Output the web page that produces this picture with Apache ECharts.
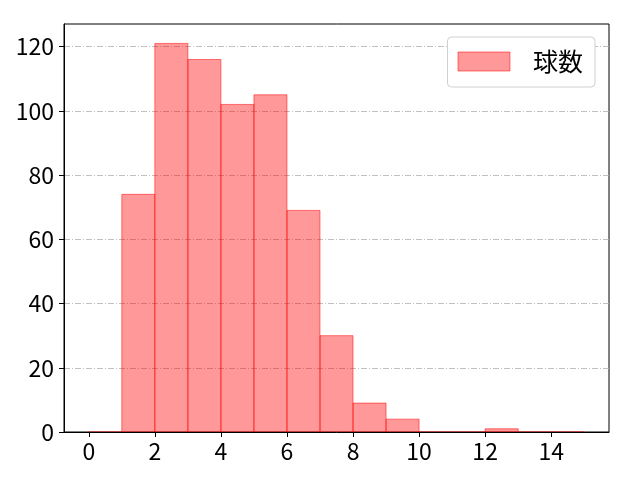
<!DOCTYPE html>
<html>
<head>
    <meta charset="utf-8">
    <title>球数</title>
    <script src="https://cdn.jsdelivr.net/npm/echarts@6/dist/echarts.min.js"></script>
</head>
<body style="margin:0;">
    <div id="main" style="width:640px;height:480px;"></div>
    <script type="text/javascript">
        // histogram bins (left edges) and counts
        var binStarts = [0, 1, 2, 3, 4, 5, 6, 7, 8, 9, 10, 11, 12, 13, 14];
        var counts = [0, 74, 121, 116, 102, 105, 69, 30, 9, 4, 0, 0, 1, 0, 0];
        var xTicks = [0, 2, 4, 6, 8, 10, 12, 14];
        var yTicks = [0, 20, 40, 60, 80, 100, 120];
        var seriesName = '球数';

        var font = 'Noto Sans CJK JP';
        var barFill = 'rgba(255,0,0,0.4)';
        var barEdge = 'rgba(255,0,0,0.5)';

        var histData = [];
        for (var i = 0; i < binStarts.length; i++) {
            histData.push([binStarts[i], binStarts[i] + 1, counts[i]]);
        }

        var myChart = echarts.init(document.getElementById('main'));

        var option = {
            animation: false,
            backgroundColor: '#fff',
            textStyle: { fontFamily: font },
            grid: {
                left: 64, right: 31, top: 24, bottom: 48,
                show: true, borderColor: '#000', borderWidth: 1
            },
            legend: {
                data: [seriesName],
                right: 45, top: 37,
                padding: [12, 12, 13, 10],
                backgroundColor: '#fff',
                borderColor: '#d0d0d0', borderWidth: 1, borderRadius: 4,
                itemWidth: 52, itemHeight: 19,
                icon: 'rect',
                itemStyle: { color: barFill, borderColor: barEdge, borderWidth: 1 },
                textStyle: { fontFamily: font, fontSize: 25, color: '#000', padding: [0, 0, 0, 18] }
            },
            xAxis: {
                type: 'value',
                min: -0.75, max: 15.75,
                z: 5,
                splitLine: { show: false },
                axisLine: { show: true, onZero: false, lineStyle: { color: '#000', width: 1 } },
                axisTick: { show: true, length: 5, customValues: xTicks, lineStyle: { color: '#000' } },
                axisLabel: { customValues: xTicks, fontSize: 23, color: '#000', margin: 8, fontFamily: font }
            },
            yAxis: {
                type: 'value',
                min: 0, max: 127.05, interval: 20,
                axisLine: { show: true, onZero: false, lineStyle: { color: '#000', width: 1 } },
                axisTick: { show: true, length: 5, customValues: yTicks, lineStyle: { color: '#000' } },
                axisLabel: { customValues: yTicks, fontSize: 23, color: '#000', margin: 10, fontFamily: font },
                splitLine: {
                    show: true, showMinLine: false, showMaxLine: true,
                    lineStyle: { color: '#b0b0b0', width: 0.8, type: [6, 2, 1, 2] }
                }
            },
            series: [{
                name: seriesName,
                type: 'custom',
                itemStyle: { color: barFill, borderColor: barEdge },
                encode: { x: [0, 1], y: 2 },
                data: histData,
                renderItem: function (params, api) {
                    var p0 = api.coord([api.value(0), api.value(2)]);
                    var p1 = api.coord([api.value(1), 0]);
                    return {
                        type: 'rect',
                        shape: { x: p0[0], y: p0[1], width: p1[0] - p0[0], height: p1[1] - p0[1] },
                        style: { fill: barFill, stroke: barEdge, lineWidth: 1 }
                    };
                }
            }]
        };

        myChart.setOption(option);
    </script>
</body>
</html>
